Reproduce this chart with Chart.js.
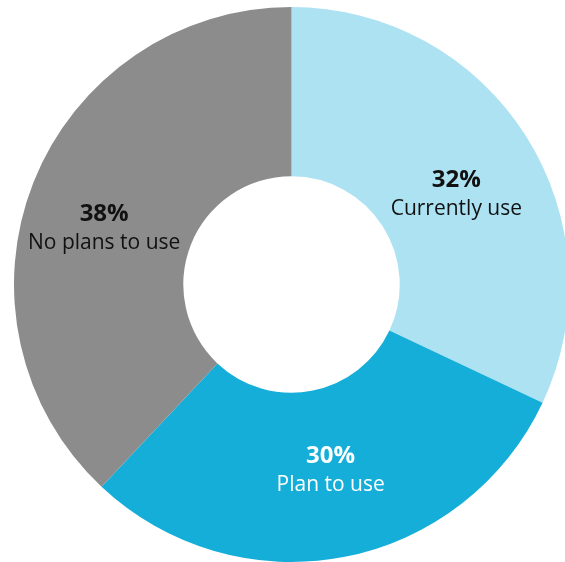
<!DOCTYPE html>
<html>
<head>
<meta charset="utf-8">
<script src="https://cdn.jsdelivr.net/npm/chart.js@4/dist/chart.umd.min.js"></script>
<style>
    html, body { margin: 0; padding: 0; background: #fff; overflow: hidden; }
    #wrap { width: 583px; height: 569px; }
</style>
</head>
<body>
<div id="wrap"><canvas id="myChart" width="583" height="569"></canvas></div>
<script>
// chart data
const categories = ['Currently use', 'Plan to use', 'No plans to use'];
const shares = [32, 30, 38];
const sliceColors = ['#ADE2F3', '#14AED8', '#8C8C8C'];
const labelColors = ['#111111', '#ffffff', '#111111'];
// small nudges from the slice centre, to sit like the original labels
const labelNudge = [[2, 10], [3, -7], [-8, 11]];

// draws "xx%" + category in the middle of each slice
const sliceLabels = {
    id: 'sliceLabels',
    afterDatasetsDraw(chart) {
        const ctx = chart.ctx;
        const meta = chart.getDatasetMeta(0);
        meta.data.forEach(function(arc, i) {
            const p = arc.getCenterPoint();
            const x = p.x + labelNudge[i][0];
            const y = p.y + labelNudge[i][1];
            ctx.save();
            ctx.textAlign = 'center';
            ctx.textBaseline = 'alphabetic';
            ctx.fillStyle = labelColors[i];
            ctx.font = 'bold 24px "Open Sans"';
            ctx.fillText(shares[i] + '%', x, y - 4);
            ctx.font = '21px "Open Sans"';
            ctx.fillText(categories[i], x, y + 24);
            ctx.restore();
        });
    }
};

var ctx = document.getElementById('myChart').getContext('2d');
var myChart = new Chart(ctx, {
    type: 'doughnut',
    data: {
        labels: categories,
        datasets: [{
            data: shares,
            backgroundColor: sliceColors,
            borderWidth: 0
        }]
    },
    options: {
        responsive: false,
        animation: false,
        cutout: '39%',
        layout: {
            padding: 7
        },
        plugins: {
            legend: { display: false },
            tooltip: { enabled: false }
        }
    },
    plugins: [sliceLabels]
});
</script>
</body>
</html>
